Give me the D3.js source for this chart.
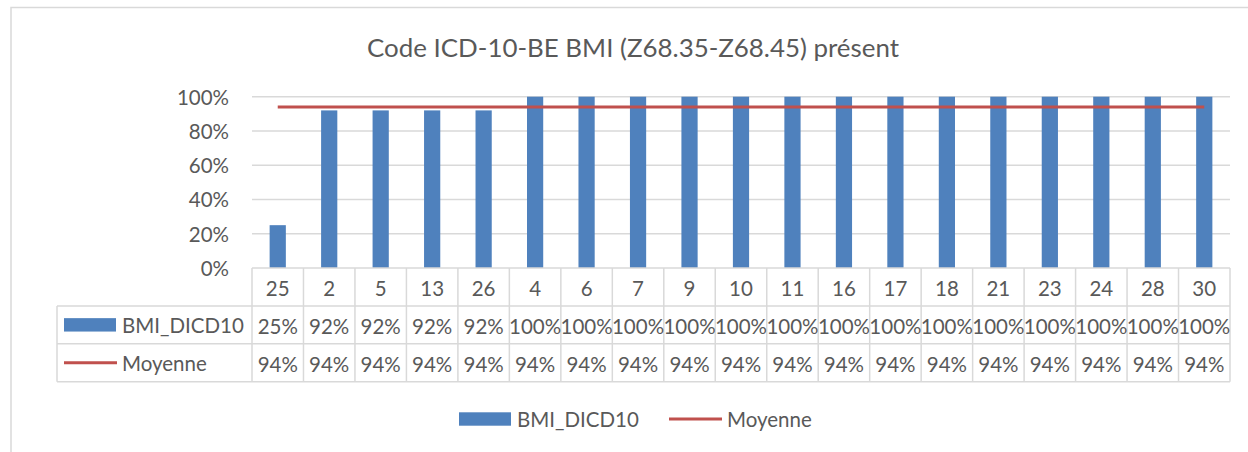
<!DOCTYPE html>
<html>
<head>
<meta charset="utf-8">
<script src="https://cdn.jsdelivr.net/npm/d3@7"></script>
<style>
  body { margin: 0; background: #fff; }
  svg { display: block; font-family: Lato, "Open Sans", sans-serif; }
</style>
</head>
<body>
<div id="chart"></div>
<script>
// data
const categories = ["25", "2", "5", "13", "26", "4", "6", "7", "9", "10", "11", "16", "17", "18", "21", "23", "24", "28", "30"];
const bmiValues = [25, 92, 92, 92, 92, 100, 100, 100, 100, 100, 100, 100, 100, 100, 100, 100, 100, 100, 100];
const meanValues = [94, 94, 94, 94, 94, 94, 94, 94, 94, 94, 94, 94, 94, 94, 94, 94, 94, 94, 94];
const yTicks = [0, 20, 40, 60, 80, 100];
const seriesNames = ["BMI_DICD10", "Moyenne"];

const canvas = { w: 1248, h: 452 };
const plot = { left: 252, right: 1230, top: 96.7, bottom: 268 };
const rowH = 37.9;
const keyLeft = 57;
const fs = 20.5;

const blue = "#4f81bd";
const red = "#c0504d";
const grid = "#d9d9d9";
const textCol = "#595959";

const svg = d3.select("#chart")
    .append("svg")
    .attr("width", canvas.w)
    .attr("height", canvas.h)
    .attr("viewBox", `0 0 ${canvas.w} ${canvas.h}`);

// chart frame (only top and left edges are visible in the picture)
svg.append("path")
    .attr("d", `M11,${canvas.h} V7.5 H${canvas.w}`)
    .attr("fill", "none")
    .attr("stroke", grid)
    .attr("stroke-width", 1.5);

svg.append("text")
    .attr("x", 633)
    .attr("y", 47)
    .attr("text-anchor", "middle")
    .attr("dominant-baseline", "central")
    .attr("fill", textCol)
    .attr("font-size", 25.9)
    .text("Code ICD-10-BE BMI (Z68.35-Z68.45) présent");

const x = d3.scaleBand()
    .domain(categories)
    .range([plot.left, plot.right])
    .padding(0);

const y = d3.scaleLinear()
    .domain([0, 100])
    .range([plot.bottom, plot.top]);

// gridlines
svg.append("g")
    .selectAll("line")
    .data(yTicks.slice(1))
    .join("line")
    .attr("x1", plot.left)
    .attr("x2", plot.right)
    .attr("y1", d => y(d))
    .attr("y2", d => y(d))
    .attr("stroke", grid)
    .attr("stroke-width", 1.5);

// y labels
svg.append("g")
    .selectAll("text")
    .data(yTicks)
    .join("text")
    .attr("x", 229)
    .attr("y", d => y(d))
    .attr("text-anchor", "end")
    .attr("dominant-baseline", "central")
    .attr("fill", textCol)
    .attr("font-size", fs)
    .text(d => d + "%");

// bars
const barW = x.bandwidth() * 0.315;
svg.append("g")
    .selectAll("rect")
    .data(bmiValues)
    .join("rect")
    .attr("x", (d, i) => x(categories[i]) + (x.bandwidth() - barW) / 2)
    .attr("y", d => y(d))
    .attr("width", barW)
    .attr("height", d => y(0) - y(d))
    .attr("fill", blue);

// mean line
const line = d3.line()
    .x((d, i) => x(categories[i]) + x.bandwidth() / 2)
    .y(d => y(d));

svg.append("path")
    .datum(meanValues)
    .attr("d", line)
    .attr("fill", "none")
    .attr("stroke", red)
    .attr("stroke-width", 3);

// data table
const rows = [plot.bottom, plot.bottom + rowH, plot.bottom + 2 * rowH, plot.bottom + 3 * rowH];
const table = svg.append("g")
    .attr("stroke", grid)
    .attr("stroke-width", 1.5);

// horizontal lines
table.append("line").attr("x1", plot.left).attr("x2", plot.right).attr("y1", rows[0]).attr("y2", rows[0]);
rows.slice(1).forEach(r => {
    table.append("line").attr("x1", keyLeft).attr("x2", plot.right).attr("y1", r).attr("y2", r);
});
// vertical lines
const edges = categories.map(c => x(c)).concat([plot.right]);
table.selectAll("line.v")
    .data(edges)
    .join("line")
    .attr("class", "v")
    .attr("x1", d => d)
    .attr("x2", d => d)
    .attr("y1", rows[0])
    .attr("y2", rows[3]);
table.append("line").attr("x1", keyLeft).attr("x2", keyLeft).attr("y1", rows[1]).attr("y2", rows[3]);

const cellText = (vals, row, fmt) => {
    svg.append("g")
        .selectAll("text")
        .data(vals)
        .join("text")
        .attr("x", (d, i) => x(categories[i]) + x.bandwidth() / 2)
        .attr("y", (rows[row] + rows[row + 1]) / 2 + 1)
        .attr("text-anchor", "middle")
        .attr("dominant-baseline", "central")
        .attr("fill", textCol)
        .attr("font-size", fs)
        .text(fmt);
};
cellText(categories, 0, d => d);
cellText(bmiValues, 1, d => d + "%");
cellText(meanValues, 2, d => d + "%");

// legend keys in table
function legendItem(g, kx, cy, idx) {
    if (idx === 0) {
        g.append("rect")
            .attr("x", kx)
            .attr("y", cy - 6.7)
            .attr("width", 52)
            .attr("height", 13.4)
            .attr("fill", blue);
    } else {
        g.append("line")
            .attr("x1", kx)
            .attr("x2", kx + 53)
            .attr("y1", cy)
            .attr("y2", cy)
            .attr("stroke", red)
            .attr("stroke-width", 3);
    }
    g.append("text")
        .attr("x", kx + 58)
        .attr("y", cy)
        .attr("dominant-baseline", "central")
        .attr("fill", textCol)
        .attr("font-size", fs)
        .text(seriesNames[idx]);
}

const keys = svg.append("g");
legendItem(keys, 64, (rows[1] + rows[2]) / 2, 0);
legendItem(keys, 64, (rows[2] + rows[3]) / 2, 1);

// bottom legend
const legend = svg.append("g");
legendItem(legend, 459, 419, 0);
legendItem(legend, 669, 419, 1);
</script>
</body>
</html>
